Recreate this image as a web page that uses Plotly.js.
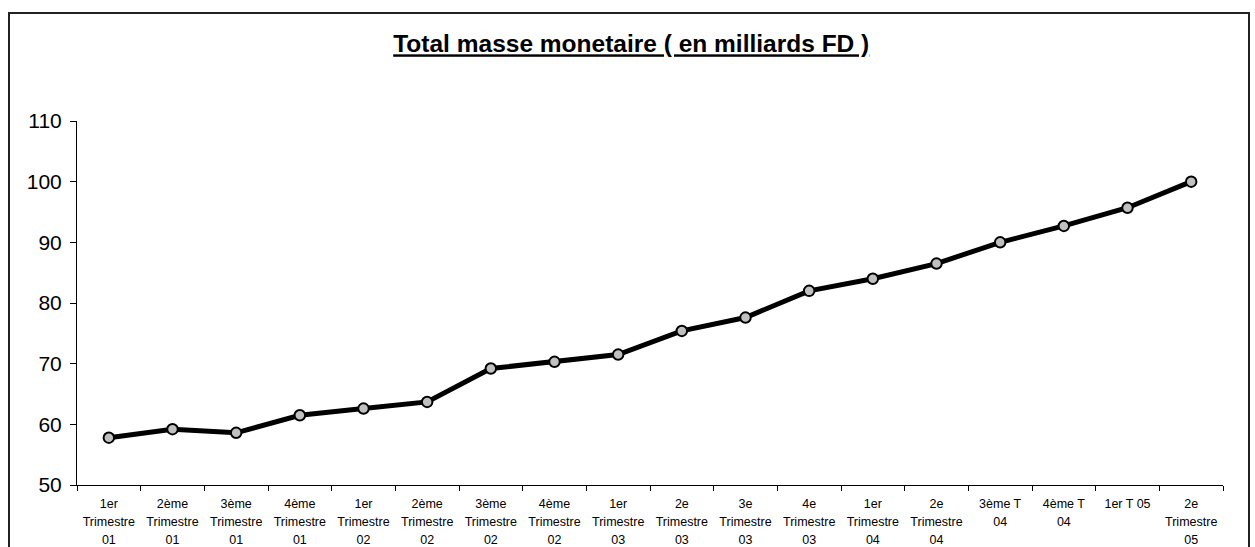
<!DOCTYPE html>
<html>
<head>
<meta charset="utf-8">
<script src="https://cdn.plot.ly/plotly-3.0.1.min.js"></script>
<style>
html,body{margin:0;padding:0;background:#fff;overflow:hidden;}
#frame{position:absolute;left:8px;top:12px;width:1242px;height:600px;border:2px solid #222;box-sizing:border-box;pointer-events:none;z-index:5;}
#chart{position:absolute;left:0;top:0;width:1255px;height:547px;}
</style>
</head>
<body>
<div id="chart"></div>
<div id="frame"></div>
<script>
const categories = [
  "1er<br>Trimestre<br>01", "2ème<br>Trimestre<br>01", "3ème<br>Trimestre<br>01", "4ème<br>Trimestre<br>01",
  "1er<br>Trimestre<br>02", "2ème<br>Trimestre<br>02", "3ème<br>Trimestre<br>02", "4ème<br>Trimestre<br>02",
  "1er<br>Trimestre<br>03", "2e<br>Trimestre<br>03", "3e<br>Trimestre<br>03", "4e<br>Trimestre<br>03",
  "1er<br>Trimestre<br>04", "2e<br>Trimestre<br>04", "3ème T<br>04", "4ème T<br>04",
  "1er T 05", "2e<br>Trimestre<br>05"
];
const masseMonetaire = [57.8, 59.2, 58.6, 61.5, 62.6, 63.7, 69.2, 70.3, 71.5, 75.4, 77.6, 82.0, 84.0, 86.5, 90.0, 92.7, 95.7, 100.0];
const yTicks = [50, 60, 70, 80, 90, 100, 110];
const chartTitle = "Total masse monetaire ( en milliards FD )";

const tickText = categories.map(c => c.split("<br>").map(l => '<span style="font-size:12.5px">' + l + '</span>').join("<br>"));
const idx = categories.map((c, i) => i);

const trace = {
  x: idx,
  y: masseMonetaire,
  type: "scatter",
  mode: "lines+markers",
  line: {color: "#000000", width: 5},
  marker: {size: 10.5, color: "#c0c0c0", line: {color: "#000000", width: 2}},
  hoverinfo: "x+y"
};

const layout = {
  width: 1255, height: 547,
  paper_bgcolor: "#ffffff", plot_bgcolor: "#ffffff",
  margin: {l: 77, r: 32, t: 121, b: 62},
  showlegend: false,
  font: {family: "Arial, 'Liberation Sans', sans-serif", color: "#000"},
  title: {
    text: "<b><u>" + chartTitle + "</u></b>",
    font: {size: 24.5, family: "Arial, 'Liberation Sans', sans-serif", color: "#000"},
    x: 0.503, xanchor: "center", xref: "container", y: 0.92, yanchor: "middle"
  },
  xaxis: {
    type: "linear",
    range: [-0.5, categories.length - 0.5],
    tickmode: "array",
    tickvals: idx,
    ticktext: tickText,
    ticks: "",
    ticklabelstandoff: 5,
    showgrid: false, zeroline: false,
    showline: true, linecolor: "#000", linewidth: 1,
    tickfont: {size: 14, color: "#000"},
    fixedrange: true
  },
  xaxis2: {
    overlaying: "x",
    range: [-0.5, categories.length - 0.5],
    tickmode: "array",
    tickvals: categories.map((c, i) => i - 0.5).concat([categories.length - 0.5]),
    ticktext: categories.map(() => "").concat([""]),
    ticks: "outside", ticklen: 5, tickcolor: "#000", tickwidth: 1,
    showgrid: false, zeroline: false, showline: false,
    anchor: "y", side: "bottom"
  },
  yaxis: {
    range: [50, 110],
    tickmode: "array",
    tickvals: yTicks,
    ticks: "outside", ticklen: 6, tickcolor: "#000",
    ticklabelstandoff: 4,
    showgrid: false, zeroline: false,
    showline: true, linecolor: "#000", linewidth: 1,
    tickfont: {size: 21, color: "#000"},
    fixedrange: true
  }
};

const dummy = {x: [0], y: [null], xaxis: "x2", yaxis: "y", type: "scatter", mode: "markers", showlegend: false, hoverinfo: "skip"};

Plotly.newPlot("chart", [trace, dummy], layout, {displayModeBar: false});
</script>
</body>
</html>
